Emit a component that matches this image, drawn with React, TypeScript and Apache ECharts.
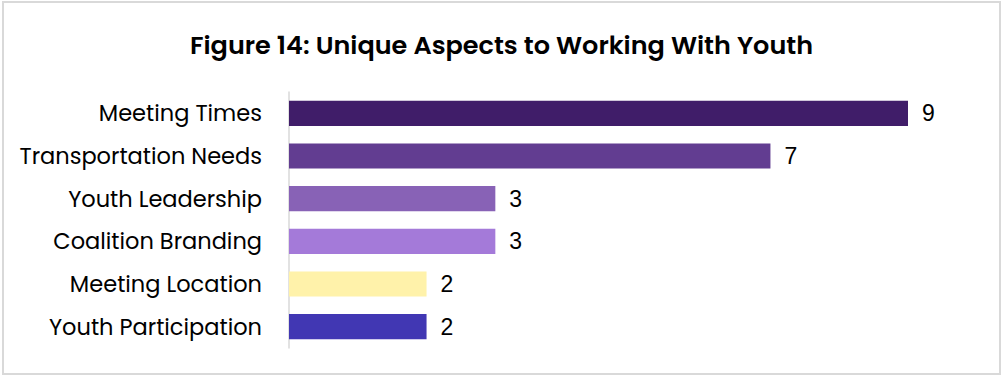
import React, { useEffect, useRef } from "react";
import * as echarts from "echarts";

const TITLE = "Figure 14: Unique Aspects to Working With Youth";
const categories = [
  "Meeting Times",
  "Transportation Needs",
  "Youth Leadership",
  "Coalition Branding",
  "Meeting Location",
  "Youth Participation",
];
const values = [9, 7, 3, 3, 2, 2];
const colors = ["#401d69", "#623d91", "#8862b6", "#a47ad9", "#fff2aa", "#4137b3"];

export default function App() {
  const ref = useRef<HTMLDivElement>(null);
  useEffect(() => {
    if (!ref.current) return;
    const chart = echarts.init(ref.current, undefined, { renderer: "svg" });
    chart.setOption({
      animation: false,
      backgroundColor: "#ffffff",
      title: {
        text: TITLE,
        left: "center",
        top: 27,
        textStyle: {
          fontFamily: "Poppins, 'Open Sans', sans-serif",
          fontSize: 25.5,
          fontWeight: 600,
          color: "#000000",
        },
      },
      graphic: [
        {
          type: "rect",
          shape: { x: 3, y: 2, width: 997, height: 372 },
          style: { fill: "none", stroke: "#d9d9d9", lineWidth: 2 },
          silent: true,
        },
      ],
      grid: { left: 289, right: 95, top: 92, bottom: 28, containLabel: false },
      xAxis: {
        type: "value",
        min: 0,
        max: 9,
        show: false,
        splitLine: { show: false },
      },
      yAxis: {
        type: "category",
        data: categories,
        inverse: true,
        axisLine: { show: true, lineStyle: { color: "#d9d9d9", width: 1.5 } },
        axisTick: { show: false },
        axisLabel: {
          margin: 27,
          fontFamily: "Poppins, 'Open Sans', sans-serif",
          fontSize: 22.5,
          color: "#000000",
        },
      },
      series: [
        {
          type: "bar",
          data: values.map((v, i) => ({ value: v, itemStyle: { color: colors[i] } })),
          barCategoryGap: "41%",
          label: {
            show: true,
            position: "right",
            distance: 14,
            fontFamily: "'Liberation Sans', Arial, sans-serif",
            fontSize: 23,
            color: "#000000",
          },
        },
      ],
    });
    return () => chart.dispose();
  }, []);
  return (
    <div
      ref={ref}
      style={{ position: "absolute", left: 0, top: 0, width: 1003, height: 376 }}
    />
  );
}
